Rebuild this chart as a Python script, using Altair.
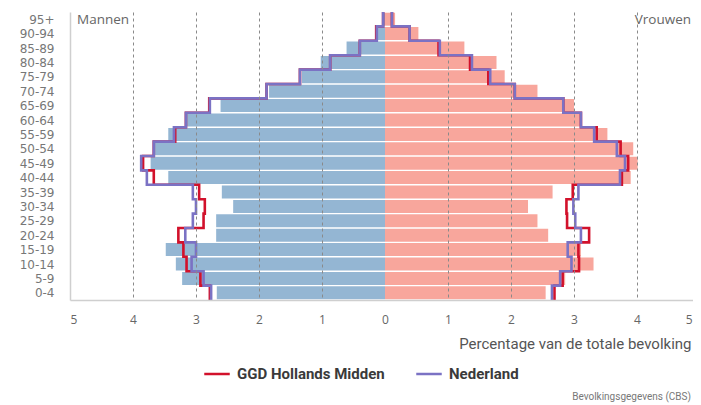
import json
import altair as alt
import pandas as pd

AGES = ["0-4", "5-9", "10-14", "15-19", "20-24", "25-29", "30-34", "35-39",
        "40-44", "45-49", "50-54", "55-59", "60-64", "65-69", "70-74",
        "75-79", "80-84", "85-89", "90-94", "95+"]

MEN_BARS = [2.67, 3.22, 3.32, 3.48, 2.68, 2.68, 2.41, 2.59, 3.44, 3.72,
            3.67, 3.44, 3.15, 2.61, 1.84, 1.32, 1.02, 0.61, 0.15, 0.03]
WOMEN_BARS = [2.55, 2.86, 3.31, 3.11, 2.59, 2.42, 2.27, 2.66, 3.90, 4.01,
              3.94, 3.53, 3.12, 3.00, 2.42, 1.90, 1.77, 1.26, 0.53, 0.16]

MEN_GGD = [2.78, 2.93, 3.15, 3.20, 3.28, 2.88, 2.86, 2.95, 3.67, 3.84,
           3.67, 3.33, 3.16, 2.79, 1.88, 1.35, 0.87, 0.40, 0.14, 0.03]
WOMEN_GGD = [2.69, 2.82, 3.08, 3.07, 3.24, 2.89, 2.88, 2.98, 3.76, 3.86,
             3.74, 3.36, 3.11, 2.83, 2.06, 1.64, 1.35, 0.85, 0.39, 0.11]

MEN_NL = [2.76, 2.88, 3.07, 3.00, 3.17, 3.05, 3.00, 3.05, 3.78, 3.87,
          3.67, 3.35, 3.16, 2.78, 1.88, 1.35, 0.87, 0.40, 0.13, 0.03]
WOMEN_NL = [2.65, 2.78, 2.96, 2.90, 3.11, 3.02, 2.99, 3.07, 3.73, 3.81,
            3.68, 3.32, 3.11, 2.83, 2.06, 1.67, 1.38, 0.87, 0.39, 0.11]

SERIES = ["GGD Hollands Midden", "Nederland"]
SERIES_COLORS = ["#d2112b", "#7b72c4"]
X_TICKS = [-5, -4, -3, -2, -1, 0, 1, 2, 3, 4, 5]

# ---- tables built from the arrays ----
bars = pd.DataFrame({"idx": list(range(len(AGES))), "age": AGES,
                     "men": MEN_BARS, "women": WOMEN_BARS})

rows = []
for name, men, women in [(SERIES[0], MEN_GGD, WOMEN_GGD), (SERIES[1], MEN_NL, WOMEN_NL)]:
    for side, sign, vals in [("men", -1, men), ("women", 1, women)]:
        for i, v in enumerate(vals):
            rows.append({"series": name, "side": side, "order": 2 * i, "x": sign * v, "y": i})
            rows.append({"series": name, "side": side, "order": 2 * i + 1, "x": sign * v, "y": i + 1})
steps = pd.DataFrame(rows)

label_expr = json.dumps(AGES) + "[floor(datum.value)]"

SANS = "Roboto, 'Open Sans', sans-serif"

x_scale = alt.Scale(domain=[-5, 5], nice=False, zero=False)
y_scale = alt.Scale(domain=[0, len(AGES)], nice=False, zero=False)

x_axis = alt.Axis(values=X_TICKS, labelExpr="abs(datum.value)",
                  title="Percentage van de totale bevolking",
                  titleAnchor="end", titleAlign="right", titleBaseline="middle",
                  titleFontWeight="normal", titleFontSize=15, titleColor="#555",
                  titleFont=SANS, titleY=43, titleX=621,
                  grid=True, gridDash=[3, 3], gridColor="#8a8a8a", gridWidth=1,
                  gridOpacity={"condition": {"test": "datum.value == 0 || datum.value == -5", "value": 0}, "value": 1},
                  ticks=False, tickSize=0, labelPadding=14, labelFontSize=12,
                  labelOffset={"condition": {"test": "datum.value == 5", "value": -8}, "value": 0},
                  labelColor="#666", labelFont="Open Sans",
                  domainColor="#cfcfcf", domainWidth=1.5, zindex=1)

y_axis = alt.Axis(values=[i + 0.5 for i in range(len(AGES))], labelExpr=label_expr,
                  title=None, grid=False, ticks=False, tickSize=0, labelPadding=16,
                  labelFontSize=12, labelColor="#777", labelFont="DejaVu Sans",
                  domainColor="#cfcfcf", domainWidth=1.5)

base_bars = alt.Chart(bars).transform_calculate(
    lo="datum.idx + 0.05", hi="datum.idx + 0.95", mneg="-datum.men", zero="0")

men_bars = base_bars.mark_bar(color="#94b6d3", opacity=1).encode(
    x=alt.X("mneg:Q", scale=x_scale, axis=x_axis),
    x2="zero:Q",
    y=alt.Y("lo:Q", scale=y_scale, axis=y_axis),
    y2="hi:Q",
)
women_bars = base_bars.mark_bar(color="#f8a69c", opacity=1).encode(
    x=alt.X("zero:Q", scale=x_scale, axis=x_axis),
    x2="women:Q",
    y=alt.Y("lo:Q", scale=y_scale, axis=y_axis),
    y2="hi:Q",
)

lines = alt.Chart(steps).mark_line(strokeWidth=2.6, interpolate="linear").encode(
    x=alt.X("x:Q", scale=x_scale, axis=x_axis),
    y=alt.Y("y:Q", scale=y_scale, axis=y_axis),
    color=alt.Color("series:N",
                    scale=alt.Scale(domain=SERIES, range=SERIES_COLORS),
                    legend=alt.Legend(orient="none", legendX=133, legendY=348,
                                      direction="horizontal", title=None,
                                      symbolType="stroke", symbolStrokeWidth=2.5,
                                      symbolSize=650, labelFontSize=15,
                                      labelFontWeight="bold", labelColor="#3a3a3a",
                                      labelFont=SANS,
                                      columnPadding=26, labelLimit=400, labelOffset=6)),
    detail="side:N",
    order="order:Q",
)

one = pd.DataFrame({"t": [0]})
mannen = alt.Chart(one).mark_text(text="Mannen", align="left", baseline="middle",
                                  fontSize=13.5, color="#666", font="Open Sans").encode(
    x=alt.value(7), y=alt.value(8))
vrouwen = alt.Chart(one).mark_text(text="Vrouwen", align="right", baseline="middle",
                                   fontSize=13.5, color="#666", font="Open Sans").encode(
    x=alt.value(621), y=alt.value(8))
source = alt.Chart(one).mark_text(text="Bevolkingsgegevens (CBS)", align="right",
                                  baseline="middle", fontSize=10, color="#777",
                                  font=SANS).encode(
    x=alt.value(621), y=alt.value(385))

chart = alt.layer(men_bars, women_bars, lines, mannen, vrouwen, source).properties(
    width=630, height=288,
    padding={"left": 62, "top": 4, "right": -7, "bottom": 105},
    autosize=alt.AutoSizeParams(type="none"),
).configure_view(stroke=None)

chart.save("out.html", embed_options={"renderer": "svg", "actions": False})
